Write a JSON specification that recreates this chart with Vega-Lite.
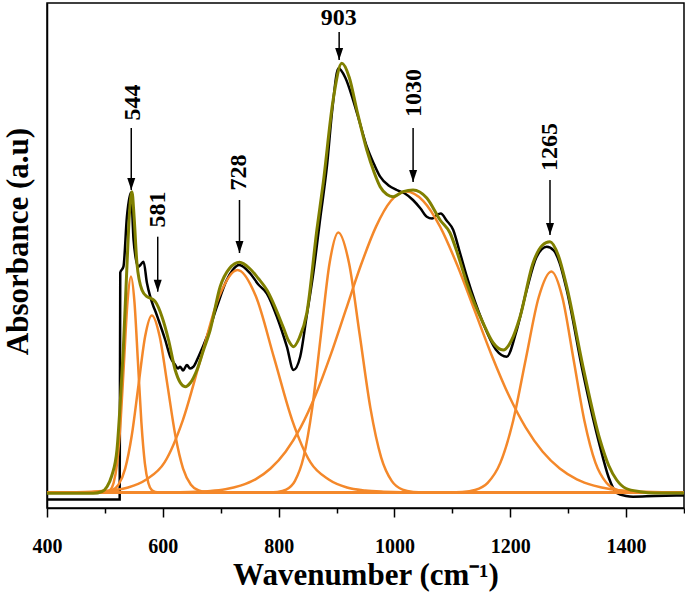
{
  "$schema": "https://vega.github.io/schema/vega-lite/v6.json",
  "width": 637,
  "height": 505,
  "autosize": {"type": "none"},
  "padding": {"left": 47, "top": 3, "right": 1, "bottom": 84},
  "background": "white",
  "config": {
    "view": {"stroke": "black", "strokeWidth": 1.5},
    "font": "Liberation Serif"
  },
  "datasets": {
    "exp": [
      {"x":400,"y":-0.07},{"x":525.5,"y":-0.07},{"x":526.5,"y":2.2},{"x":532,"y":2.258},{"x":538,"y":2.758},{"x":545,"y":3.0},{"x":549.5,"y":2.525},{"x":553,"y":2.35},{"x":558,"y":2.258},{"x":562,"y":2.28},{"x":566.7,"y":2.308},{"x":572.6,"y":2.095},{"x":578.3,"y":1.958},{"x":584,"y":1.858},{"x":588,"y":1.8},{"x":592.6,"y":1.725},{"x":604.2,"y":1.525},{"x":612.8,"y":1.358},{"x":621.4,"y":1.275},{"x":626,"y":1.24},{"x":630,"y":1.258},{"x":635,"y":1.22},{"x":641.6,"y":1.275},{"x":647,"y":1.24},{"x":653,"y":1.258},{"x":661.6,"y":1.358},{"x":676.1,"y":1.558},{"x":693.4,"y":1.858},{"x":710,"y":2.12},{"x":720,"y":2.22},{"x":731.9,"y":2.275},{"x":751,"y":2.19},{"x":765,"y":2.08},{"x":779.7,"y":1.99},{"x":797,"y":1.758},{"x":814.2,"y":1.458},{"x":825.6,"y":1.225},{"x":837.2,"y":1.358},{"x":848,"y":1.75},{"x":860,"y":2.2},{"x":872,"y":2.75},{"x":883.3,"y":3.258},{"x":893,"y":3.85},{"x":903.3,"y":4.242},{"x":915,"y":4.15},{"x":928.6,"y":3.925},{"x":940,"y":3.7},{"x":952.3,"y":3.458},{"x":965,"y":3.28},{"x":975.3,"y":3.158},{"x":990,"y":3.07},{"x":1004,"y":3.025},{"x":1018,"y":2.99},{"x":1032,"y":2.925},{"x":1045,"y":2.84},{"x":1055.8,"y":2.758},{"x":1065,"y":2.74},{"x":1073,"y":2.775},{"x":1080,"y":2.79},{"x":1090,"y":2.72},{"x":1101.5,"y":2.625},{"x":1112,"y":2.42},{"x":1125,"y":2.158},{"x":1153,"y":1.695},{"x":1175,"y":1.43},{"x":1194,"y":1.358},{"x":1210,"y":1.6},{"x":1228.4,"y":2.025},{"x":1245,"y":2.35},{"x":1263,"y":2.458},{"x":1275,"y":2.42},{"x":1285,"y":2.3},{"x":1297.5,"y":2.025},{"x":1325.6,"y":1.195},{"x":1355,"y":0.458},{"x":1370,"y":0.15},{"x":1383.8,"y":-0.005},{"x":1400,"y":-0.035},{"x":1412,"y":-0.042},{"x":1450,"y":-0.035},{"x":1500,"y":-0.03}
    ],
    "comp": [
      {"c":"C1","x":400,"y":0},{"c":"C1","x":497,"y":0},{"c":"C1","x":503,"y":0.005},{"c":"C1","x":509,"y":0.024},{"c":"C1","x":515,"y":0.095},{"c":"C1","x":521,"y":0.292},{"c":"C1","x":527,"y":0.701},{"c":"C1","x":533,"y":1.31},{"c":"C1","x":539,"y":1.906},{"c":"C1","x":545,"y":2.16},{"c":"C1","x":551,"y":1.906},{"c":"C1","x":557,"y":1.31},{"c":"C1","x":563,"y":0.701},{"c":"C1","x":569,"y":0.292},{"c":"C1","x":575,"y":0.095},{"c":"C1","x":581,"y":0.024},{"c":"C1","x":587,"y":0.005},{"c":"C1","x":593,"y":0},{"c":"C1","x":1500,"y":0},
      {"c":"C2","x":400,"y":0},{"c":"C2","x":489,"y":0.001},{"c":"C2","x":500.5,"y":0.004},{"c":"C2","x":512,"y":0.02},{"c":"C2","x":523.5,"y":0.078},{"c":"C2","x":535,"y":0.239},{"c":"C2","x":546.5,"y":0.575},{"c":"C2","x":558,"y":1.074},{"c":"C2","x":569.5,"y":1.562},{"c":"C2","x":581,"y":1.77},{"c":"C2","x":594.5,"y":1.562},{"c":"C2","x":608,"y":1.074},{"c":"C2","x":621.5,"y":0.575},{"c":"C2","x":635,"y":0.239},{"c":"C2","x":648.5,"y":0.078},{"c":"C2","x":662,"y":0.02},{"c":"C2","x":675.5,"y":0.004},{"c":"C2","x":689,"y":0.001},{"c":"C2","x":1500,"y":0},
      {"c":"C3","x":400,"y":0},{"c":"C3","x":445.5,"y":0.003},{"c":"C3","x":477,"y":0.008},{"c":"C3","x":508.5,"y":0.02},{"c":"C3","x":540,"y":0.05},{"c":"C3","x":571.5,"y":0.13},{"c":"C3","x":603,"y":0.301},{"c":"C3","x":634.5,"y":0.722},{"c":"C3","x":666,"y":1.349},{"c":"C3","x":697.5,"y":1.964},{"c":"C3","x":729,"y":2.225},{"c":"C3","x":760.5,"y":1.964},{"c":"C3","x":792,"y":1.349},{"c":"C3","x":823.5,"y":0.722},{"c":"C3","x":855,"y":0.301},{"c":"C3","x":886.5,"y":0.13},{"c":"C3","x":918,"y":0.05},{"c":"C3","x":949.5,"y":0.02},{"c":"C3","x":981,"y":0.008},{"c":"C3","x":1012.5,"y":0.003},{"c":"C3","x":1500,"y":0},
      {"c":"C4","x":400,"y":0},{"c":"C4","x":783,"y":0.001},{"c":"C4","x":798,"y":0.006},{"c":"C4","x":813,"y":0.029},{"c":"C4","x":828,"y":0.114},{"c":"C4","x":843,"y":0.352},{"c":"C4","x":858,"y":0.844},{"c":"C4","x":873,"y":1.577},{"c":"C4","x":888,"y":2.295},{"c":"C4","x":903,"y":2.6},{"c":"C4","x":921.5,"y":2.295},{"c":"C4","x":940,"y":1.577},{"c":"C4","x":958.5,"y":0.844},{"c":"C4","x":977,"y":0.352},{"c":"C4","x":995.5,"y":0.114},{"c":"C4","x":1014,"y":0.029},{"c":"C4","x":1032.5,"y":0.006},{"c":"C4","x":1051,"y":0.001},{"c":"C4","x":1500,"y":0},
      {"c":"C5","x":400,"y":0},{"c":"C5","x":604,"y":0.001},{"c":"C5","x":630,"y":0.003},{"c":"C5","x":656,"y":0.007},{"c":"C5","x":682,"y":0.015},{"c":"C5","x":708,"y":0.033},{"c":"C5","x":734,"y":0.069},{"c":"C5","x":760,"y":0.132},{"c":"C5","x":786,"y":0.24},{"c":"C5","x":812,"y":0.407},{"c":"C5","x":838,"y":0.651},{"c":"C5","x":864,"y":0.977},{"c":"C5","x":890,"y":1.378},{"c":"C5","x":916,"y":1.826},{"c":"C5","x":942,"y":2.272},{"c":"C5","x":968,"y":2.656},{"c":"C5","x":994,"y":2.917},{"c":"C5","x":1020,"y":3.01},{"c":"C5","x":1049.5,"y":2.917},{"c":"C5","x":1079,"y":2.656},{"c":"C5","x":1108.5,"y":2.272},{"c":"C5","x":1138,"y":1.826},{"c":"C5","x":1167.5,"y":1.378},{"c":"C5","x":1197,"y":0.977},{"c":"C5","x":1226.5,"y":0.651},{"c":"C5","x":1256,"y":0.407},{"c":"C5","x":1285.5,"y":0.24},{"c":"C5","x":1315,"y":0.132},{"c":"C5","x":1344.5,"y":0.069},{"c":"C5","x":1374,"y":0.033},{"c":"C5","x":1403.5,"y":0.015},{"c":"C5","x":1433,"y":0.007},{"c":"C5","x":1462.5,"y":0.003},{"c":"C5","x":1492,"y":0.001},{"c":"C5","x":1500,"y":0},
      {"c":"C6","x":400,"y":0},{"c":"C6","x":1095,"y":0.001},{"c":"C6","x":1117,"y":0.005},{"c":"C6","x":1139,"y":0.025},{"c":"C6","x":1161,"y":0.097},{"c":"C6","x":1183,"y":0.299},{"c":"C6","x":1205,"y":0.718},{"c":"C6","x":1227,"y":1.34},{"c":"C6","x":1249,"y":1.95},{"c":"C6","x":1271,"y":2.21},{"c":"C6","x":1290,"y":1.95},{"c":"C6","x":1309,"y":1.34},{"c":"C6","x":1328,"y":0.718},{"c":"C6","x":1347,"y":0.299},{"c":"C6","x":1366,"y":0.097},{"c":"C6","x":1385,"y":0.025},{"c":"C6","x":1404,"y":0.005},{"c":"C6","x":1423,"y":0.001},{"c":"C6","x":1500,"y":0}
    ],
    "fit": [
      {"x":400,"y":-0.008},{"x":480,"y":-0.008},{"x":495,"y":0.01},{"x":503.6,"y":0.058},{"x":512,"y":0.17},{"x":520.8,"y":0.425},{"x":526,"y":0.85},{"x":531.7,"y":1.425},{"x":538,"y":2.258},{"x":542.5,"y":2.8},{"x":546.7,"y":3.008},{"x":550.5,"y":2.75},{"x":555.3,"y":2.292},{"x":564,"y":2.025},{"x":572.6,"y":1.958},{"x":580,"y":1.94},{"x":587,"y":1.908},{"x":598.5,"y":1.758},{"x":609.9,"y":1.525},{"x":621.4,"y":1.225},{"x":630,"y":1.1},{"x":638.7,"y":1.058},{"x":648,"y":1.1},{"x":658.9,"y":1.225},{"x":670,"y":1.42},{"x":681.8,"y":1.625},{"x":699,"y":2.058},{"x":715,"y":2.24},{"x":732.4,"y":2.302},{"x":750,"y":2.24},{"x":765,"y":2.14},{"x":779.7,"y":2.025},{"x":807.8,"y":1.655},{"x":817,"y":1.52},{"x":825.6,"y":1.458},{"x":836,"y":1.55},{"x":848.7,"y":1.795},{"x":866,"y":2.625},{"x":877,"y":3.095},{"x":894.1,"y":3.925},{"x":909.1,"y":4.292},{"x":922,"y":4.15},{"x":935,"y":3.825},{"x":952.3,"y":3.425},{"x":965,"y":3.2},{"x":975.3,"y":3.058},{"x":987,"y":2.98},{"x":997.7,"y":2.958},{"x":1015,"y":3.008},{"x":1032.2,"y":3.025},{"x":1055.8,"y":2.945},{"x":1078.8,"y":2.725},{"x":1096,"y":2.595},{"x":1110,"y":2.37},{"x":1124.9,"y":2.095},{"x":1153,"y":1.695},{"x":1170,"y":1.5},{"x":1188,"y":1.425},{"x":1202,"y":1.52},{"x":1216.9,"y":1.758},{"x":1239.3,"y":2.295},{"x":1255,"y":2.47},{"x":1268.6,"y":2.508},{"x":1283,"y":2.37},{"x":1297.5,"y":2.058},{"x":1325.6,"y":1.258},{"x":1355,"y":0.525},{"x":1370,"y":0.27},{"x":1383.8,"y":0.125},{"x":1400,"y":0.04},{"x":1424,"y":0.008},{"x":1450,"y":-0.005},{"x":1500,"y":-0.005}
    ],
    "arrows": [
      {"x":545.5,"y":3.645,"y2":3.025},
      {"x":591.2,"y":2.558,"y2":2.008},
      {"x":732.4,"y":2.925,"y2":2.395},
      {"x":904.5,"y":4.605,"y2":4.325},
      {"x":1032.2,"y":3.645,"y2":3.105},
      {"x":1268.6,"y":3.125,"y2":2.575}
    ],
    "vlabels": [
      {"x":548,"y":3.9,"label":"544"},
      {"x":591.2,"y":2.83,"label":"581"},
      {"x":731.9,"y":3.2,"label":"728"},
      {"x":1034,"y":3.995,"label":"1030"},
      {"x":1268.5,"y":3.455,"label":"1265"}
    ],
    "hlabels": [
      {"x":904,"y":4.745,"label":"903"}
    ]
  },
  "encoding": {
    "x": {
      "field": "x", "type": "quantitative",
      "scale": {"domain": [400, 1500], "nice": false, "zero": false},
      "axis": {
        "title": "Wavenumber (cm⁻¹)",
        "values": [400,500,600,700,800,900,1000,1100,1200,1300,1400,1500],
        "format": "d",
        "labelExpr": "datum.value % 200 === 0 && datum.value < 1500 ? datum.label : ''",
        "labelFlush": false,
        "labelOverlap": false,
        "grid": false,
        "domainColor": "black", "domainWidth": 1.5,
        "tickColor": "black", "tickWidth": 1.5,
        "tickSize": {"condition": {"test": "datum.value % 200 === 0", "value": 9}, "value": 5},
        "labelPadding": 19,
        "labelFont": "Liberation Serif", "labelFontWeight": "bold", "labelFontSize": 20, "labelColor": "black",
        "titleFont": "Liberation Serif", "titleFontWeight": "bold", "titleFontSize": 31, "titleColor": "black",
        "titlePadding": 4
      }
    },
    "y": {
      "field": "y", "type": "quantitative",
      "scale": {"domain": [-0.155, 4.895], "nice": false, "zero": false},
      "axis": {
        "title": "Absorbance (a.u)",
        "ticks": false, "labels": false, "grid": false,
        "domainColor": "black", "domainWidth": 1.5,
        "titleFont": "Liberation Serif", "titleFontWeight": "bold", "titleFontSize": 31, "titleColor": "black",
        "titlePadding": 13,
        "titleY": 238
      }
    }
  },
  "layer": [
    {
      "data": {"name": "exp"},
      "mark": {"type": "line", "color": "black", "strokeWidth": 2.5, "interpolate": "monotone"}
    },
    {
      "data": {"name": "comp"},
      "mark": {"type": "line", "color": "#F4882A", "strokeWidth": 2.5, "interpolate": "monotone"},
      "encoding": {"detail": {"field": "c", "type": "nominal"}}
    },
    {
      "data": {"name": "fit"},
      "mark": {"type": "line", "color": "#808000", "strokeWidth": 3, "interpolate": "monotone"}
    },
    {
      "data": {"name": "arrows"},
      "mark": {"type": "rule", "color": "black", "strokeWidth": 1.5},
      "encoding": {"y2": {"field": "y2"}}
    },
    {
      "data": {"name": "arrows"},
      "mark": {"type": "point", "shape": "M-1,-3L1,-3L0,0Z", "size": 64, "filled": true, "color": "black", "opacity": 1, "strokeWidth": 0},
      "encoding": {"y": {"field": "y2", "type": "quantitative"}}
    },
    {
      "data": {"name": "vlabels"},
      "mark": {"type": "text", "angle": 270, "align": "center", "baseline": "middle", "font": "Liberation Serif", "fontWeight": "bold", "fontSize": 24, "color": "black"},
      "encoding": {"text": {"field": "label"}}
    },
    {
      "data": {"name": "hlabels"},
      "mark": {"type": "text", "align": "center", "baseline": "middle", "font": "Liberation Serif", "fontWeight": "bold", "fontSize": 24, "color": "black"},
      "encoding": {"text": {"field": "label"}}
    }
  ]
}
